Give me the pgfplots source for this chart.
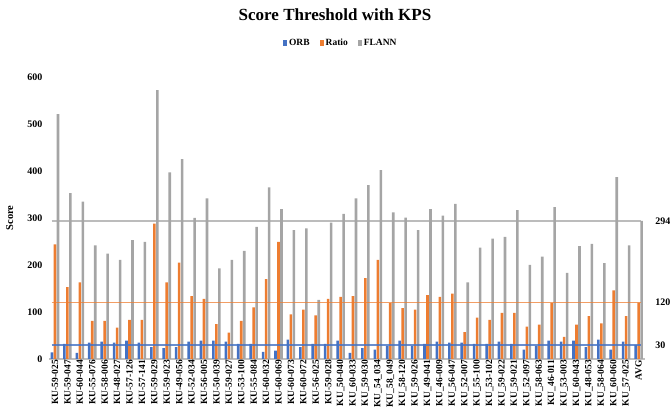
\documentclass[border=0pt]{standalone}
\usepackage{fontspec}
\setmainfont{Liberation Serif}
\usepackage{pgfplots}
\usepackage{pgfplotstable}
\pgfplotsset{compat=1.18}
\definecolor{cORB}{HTML}{4472C4}
\definecolor{cRatio}{HTML}{ED7D31}
\definecolor{cFLANN}{HTML}{A5A5A5}
\pgfplotstableread{
x orb ratio flann
0 14 244 521
1 32 153 353
2 13 163 335
3 35 81 242
4 37 81 224
5 35 67 211
6 39 83 253
7 35 83 249
8 25 288 572
9 23 163 397
10 25 205 425
11 37 134 300
12 39 128 342
13 39 74 193
14 37 56 211
15 32 81 230
16 32 110 281
17 15 170 365
18 18 249 319
19 41 95 274
20 25 105 278
21 32 93 126
22 32 128 290
23 39 132 309
24 13 134 342
25 23 172 370
26 20 211 402
27 28 119 312
28 39 108 301
29 28 105 274
30 32 136 319
31 37 132 305
32 35 139 330
33 35 57 163
34 32 88 237
35 32 83 256
36 37 98 260
37 32 98 317
38 20 69 200
39 28 73 218
40 39 119 323
41 37 47 183
42 39 73 240
43 25 91 245
44 41 76 204
45 20 146 387
46 37 91 242
47 30 120 294
}\datatable
\begin{document}
\begin{tikzpicture}
\begin{axis}[
  scale only axis, width=596pt, height=282pt,
  xmin=-0.5, xmax=47.5, ymin=0, ymax=600,
  axis x line*=bottom, axis y line*=left,
  x axis line style={draw=black!25, line width=1.6pt, -},
  y axis line style={draw=none},
  xtick={0,...,47},
  xticklabels={KU-59-025,KU-59-047,KU-60-044,KU-55-076,KU-58-006,KU-48-027,KU-57-126,KU-57-141,KU-59-029,KU-59-023,KU-49-056,KU-52-034,KU-56-005,KU-50-039,KU-59-027,KU-53-100,KU-55-084,KU-60-032,KU-60-069,KU-60-073,KU-60-072,KU-56-025,KU-59-028,KU\_50-040,KU\_60-033,KU\_59-030,KU\_54\_034,KU\_58\_049,KU\_58-120,KU\_59-026,KU\_49-041,KU\_46-009,KU\_56-047,KU\_52-007,KU\_55-100,KU\_53-102,KU\_59-022,KU\_59-021,KU\_52-097,KU\_58-063,KU\_46-011,KU\_53-003,KU\_60-043,KU\_48-053,KU\_58-064,KU\_60-060,KU\_57-025,AVG},
  xticklabel style={rotate=90, anchor=east, font=\fontsize{9.5}{10}\selectfont\bfseries, inner sep=1pt, yshift=0pt},
  ytick={0,100,...,600},
  yticklabel style={font=\fontsize{10}{11}\selectfont\bfseries, xshift=-3pt},
  /pgf/number format/assume math mode=true,
  major tick length=0pt,
  ylabel={Score},
  ylabel style={font=\fontsize{10.5}{11}\selectfont\bfseries, at={(axis description cs:-0.0654,0.5)}, anchor=center},
  legend style={at={(axis description cs:0.49,1.12)}, anchor=center, draw=none, fill=none,
    font=\fontsize{9.5}{10}\selectfont\bfseries, legend columns=3,
    /tikz/every even column/.append style={column sep=8pt}},
  legend cell align=left,
]
\addplot[ybar, bar width=2.6pt, bar shift=-3pt, fill=cORB, draw=none,
  legend image code/.code={\fill[cORB] (0pt,-3pt) rectangle (4pt,3pt);}] table[x=x,y=orb]{\datatable};
\addlegendentry{ORB}
\addplot[ybar, bar width=2.6pt, bar shift=0pt, fill=cRatio, draw=none,
  legend image code/.code={\fill[cRatio] (0pt,-3pt) rectangle (4pt,3pt);}] table[x=x,y=ratio]{\datatable};
\addlegendentry{Ratio}
\addplot[ybar, bar width=2.6pt, bar shift=3pt, fill=cFLANN, draw=none,
  legend image code/.code={\fill[cFLANN] (0pt,-3pt) rectangle (4pt,3pt);}] table[x=x,y=flann]{\datatable};
\addlegendentry{FLANN}
\addplot[cORB, opacity=0.8, line width=1.4pt, forget plot] coordinates {(-0.28,30) (47.2,30)};
\addplot[cRatio, opacity=0.75, line width=1.4pt, forget plot] coordinates {(-0.28,120) (47.2,120)};
\addplot[cFLANN, opacity=0.75, line width=1.4pt, forget plot] coordinates {(-0.28,294) (47.2,294)};
\end{axis}
\begin{axis}[
  scale only axis, width=596pt, height=282pt,
  xmin=-0.5, xmax=47.5, ymin=0, ymax=600,
  hide x axis, axis y line*=right, y axis line style={draw=none},
  ytick={30,120,294}, major tick length=0pt,
  yticklabel style={font=\fontsize{10}{11}\selectfont\bfseries, xshift=7pt},
  /pgf/number format/assume math mode=true,
]
\addplot[draw=none] coordinates {(0,0)};
\end{axis}
\node[font=\fontsize{17}{20}\selectfont\bfseries] at (286.2pt,344pt) {Score Threshold with KPS};
\pgfresetboundingbox
\path (-48.8pt,-55pt) rectangle (621.2pt,359pt);
\end{tikzpicture}
\end{document}
